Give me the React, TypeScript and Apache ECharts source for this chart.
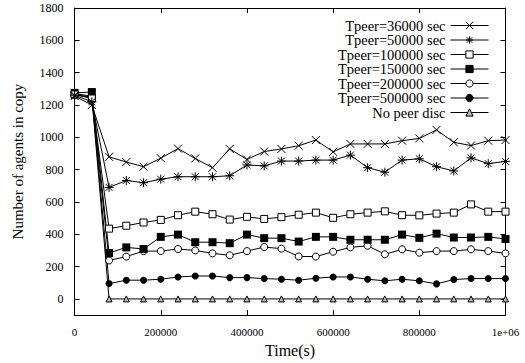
import React, { useEffect, useRef } from "react";
import * as echarts from "echarts";

const times = [0, 40000, 80000, 120000, 160000, 200000, 240000, 280000, 320000, 360000, 400000, 440000, 480000, 520000, 560000, 600000, 640000, 680000, 720000, 760000, 800000, 840000, 880000, 920000, 960000, 1000000, 1040000];

const seriesNames = ["Tpeer=36000 sec", "Tpeer=50000 sec", "Tpeer=100000 sec", "Tpeer=150000 sec", "Tpeer=200000 sec", "Tpeer=500000 sec", "No peer disc"];

const tpeer36000 = [1255, 1200, 879, 847, 818, 871, 930, 869, 812, 928, 863, 912, 928, 948, 983, 910, 959, 959, 959, 979, 993, 1046, 969, 949, 979, 983, 987];
const tpeer50000 = [1260, 1220, 690, 733, 719, 741, 756, 756, 756, 762, 829, 823, 853, 853, 859, 859, 890, 812, 784, 859, 867, 818, 792, 873, 837, 851, 865];
const tpeer100000 = [1265, 1240, 435, 453, 473, 489, 518, 540, 524, 491, 508, 495, 506, 521, 534, 502, 524, 534, 542, 518, 517, 528, 534, 585, 540, 540, 540];
const tpeer150000 = [1275, 1280, 284, 319, 309, 384, 398, 351, 351, 345, 398, 376, 376, 355, 384, 384, 366, 366, 366, 398, 378, 404, 380, 380, 384, 371, 358];
const tpeer200000 = [1265, 1245, 238, 262, 296, 296, 309, 300, 282, 270, 296, 321, 311, 263, 262, 292, 319, 329, 276, 307, 286, 296, 296, 307, 296, 282, 268];
const tpeer500000 = [1270, 1255, 95, 116, 116, 122, 136, 142, 142, 132, 132, 126, 122, 116, 128, 136, 136, 122, 112, 122, 112, 93, 120, 126, 126, 126, 126];
const noPeerDisc = [1262, 1250, 0, 0, 0, 0, 0, 0, 0, 0, 0, 0, 0, 0, 0, 0, 0, 0, 0, 0, 0, 0, 0, 0, 0, 0, 0];

const yTicks = [0, 200, 400, 600, 800, 1000, 1200, 1400, 1600, 1800];

const FONT = "Liberation Serif";

export default function App() {
  const ref = useRef<HTMLDivElement>(null);
  useEffect(() => {
    if (!ref.current) return;
    const chart = echarts.init(ref.current, null, { renderer: "svg" });
    const allData = [tpeer36000, tpeer50000, tpeer100000, tpeer150000, tpeer200000, tpeer500000, noPeerDisc];
    const cross = "path://M0,0L10,10M10,0L0,10";
    const star = "path://M1.5,1.5L11.5,11.5M11.5,1.5L1.5,11.5M6.5,0L6.5,13M0,6.5L13,6.5";
    const markers: any[] = [
      { symbol: cross, size: 8, style: { color: "#000", borderColor: "#000", borderWidth: 1 } },
      { symbol: star, size: 9, style: { color: "#000", borderColor: "#000", borderWidth: 1 } },
      { symbol: "rect", size: 7, style: { color: "#fff", borderColor: "#000", borderWidth: 1 } },
      { symbol: "rect", size: 8, style: { color: "#000", borderColor: "#000", borderWidth: 0 } },
      { symbol: "circle", size: 7, style: { color: "#fff", borderColor: "#000", borderWidth: 1 } },
      { symbol: "circle", size: 7, style: { color: "#000", borderColor: "#000", borderWidth: 0 } },
      { symbol: "triangle", size: 6, style: { color: "#bbb", borderColor: "#000", borderWidth: 1 } },
    ];
    const series = seriesNames.map((name, i) => ({
      name,
      type: "line",
      data: times.map((t, j) => [t, allData[i][j]]),
      symbol: markers[i].symbol,
      symbolSize: markers[i].size,
      showAllSymbol: true,
      clip: true,
      color: "#000",
      lineStyle: { color: "#000", width: 1 },
      itemStyle: markers[i].style,
      emphasis: { disabled: true },
      z: 10 - i,
    }));
    const axisCommon = {
      axisLine: { show: true, onZero: false, lineStyle: { color: "#000", width: 1 } },
      splitLine: { show: false },
    };
    chart.setOption({
      animation: false,
      backgroundColor: "#fff",
      textStyle: { fontFamily: FONT, color: "#000" },
      grid: { left: 74.6, right: 19.5, top: 8, bottom: 43.5, containLabel: false },
      legend: {
        orient: "vertical",
        right: 31,
        top: 13,
        align: "right",
        itemWidth: 38,
        itemHeight: 9,
        itemGap: -0.5,
        itemStyle: { borderWidth: 1 },
        lineStyle: { width: 1 },
        textStyle: { fontFamily: FONT, fontSize: 14.5, color: "#000", lineHeight: 13 },
        data: seriesNames,
      },
      xAxis: [
        {
          type: "value",
          min: 0,
          max: 1000000,
          interval: 200000,
          name: "Time(s)",
          nameLocation: "middle",
          nameGap: 25,
          nameTextStyle: { fontFamily: FONT, fontSize: 16, color: "#000" },
          ...axisCommon,
          axisTick: { show: true, inside: true, length: 5, lineStyle: { color: "#000" } },
          axisLabel: {
            fontFamily: FONT,
            fontSize: 11,
            color: "#000",
            margin: 11,
            formatter: (v: number) => (v === 1000000 ? "1e+06" : String(v)),
          },
        },
        {
          type: "value",
          position: "top",
          min: 0,
          max: 1000000,
          interval: 200000,
          ...axisCommon,
          axisTick: { show: true, inside: true, length: 5, lineStyle: { color: "#000" } },
          axisLabel: { show: false },
        },
      ],
      yAxis: [
        {
          type: "value",
          min: -100,
          max: 1800,
          name: "Number of agents in copy",
          nameLocation: "middle",
          nameGap: 49,
          nameTextStyle: { fontFamily: FONT, fontSize: 15, color: "#000" },
          ...axisCommon,
          axisTick: { show: true, inside: true, length: 5, customValues: yTicks, lineStyle: { color: "#000" } },
          axisLabel: {
            fontFamily: FONT,
            fontSize: 12,
            color: "#000",
            margin: 11,
            customValues: yTicks,
            formatter: (v: number) => String(v),
          },
        },
        {
          type: "value",
          position: "right",
          min: -100,
          max: 1800,
          ...axisCommon,
          axisTick: { show: true, inside: true, length: 5, customValues: yTicks, lineStyle: { color: "#000" } },
          axisLabel: { show: false, customValues: yTicks },
        },
      ],
      series,
    });
    return () => chart.dispose();
  }, []);
  return (
    <div
      ref={ref}
      style={{ position: "fixed", left: 0, top: 0, width: 525, height: 363, background: "#fff" }}
    />
  );
}
